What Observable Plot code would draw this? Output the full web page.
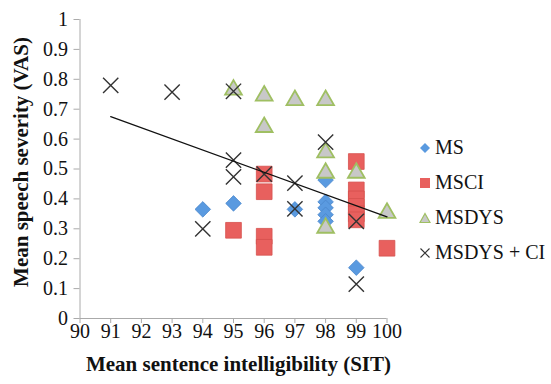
<!DOCTYPE html>
<html>
<head>
<meta charset="utf-8">
<script src="https://cdn.jsdelivr.net/npm/d3@7"></script>
<script src="https://cdn.jsdelivr.net/npm/@observablehq/plot@0.6"></script>
<style>
  html, body { margin: 0; padding: 0; background: #fff; }
  #wrap { position: relative; width: 551px; height: 384px; overflow: hidden; }
  #legend { position: absolute; left: 419px; top: 130px; font-family: "Liberation Serif", "Tinos", "Times New Roman", "Nimbus Roman", "DejaVu Serif", serif; font-size: 20px; color: #111; white-space: nowrap; }
  #legend .row { display: flex; align-items: center; height: 35px; }
  #legend svg { margin-right: 4px; flex: none; }
</style>
</head>
<body>
<div id="wrap"><div id="legend"></div></div>
<script>
const xTicks = [90, 91, 92, 93, 94, 95, 96, 97, 98, 99, 100];
const yTicks = [0, 0.1, 0.2, 0.3, 0.4, 0.5, 0.6, 0.7, 0.8, 0.9, 1];

const msX = [94, 95, 97, 98, 98, 98, 98, 98, 99];
const msY = [0.365, 0.385, 0.365, 0.463, 0.39, 0.37, 0.347, 0.325, 0.17];

const msciX = [95, 96, 96, 96, 96, 99, 99, 99, 99, 99, 99, 100];
const msciY = [0.295, 0.483, 0.424, 0.275, 0.238, 0.525, 0.43, 0.40, 0.375, 0.35, 0.33, 0.235];

const msdysX = [95, 96, 96, 97, 98, 98, 98, 98, 99, 100];
const msdysY = [0.765, 0.745, 0.64, 0.73, 0.73, 0.555, 0.487, 0.303, 0.487, 0.353];

const msdysciX = [91, 93, 95, 95, 95, 94, 96, 97, 97, 98, 99, 99];
const msdysciY = [0.78, 0.757, 0.76, 0.53, 0.474, 0.30, 0.483, 0.453, 0.367, 0.59, 0.325, 0.115];

const trendX = [91, 100];
const trendY = [0.675, 0.34];

const seriesNames = ["MS", "MSCI", "MSDYS", "MSDYS + CI"];

const toRows = (xs, ys) => xs.map((x, i) => ({x, y: ys[i]}));
const ms = toRows(msX, msY);
const msci = toRows(msciX, msciY);
const msdys = toRows(msdysX, msdysY);
const msdysci = toRows(msdysciX, msdysciY);
const trend = toRows(trendX, trendY);

const font = '"Liberation Serif", "Tinos", "Times New Roman", "Nimbus Roman", "DejaVu Serif", serif';

const chart = Plot.plot({
  width: 551,
  height: 384,
  marginLeft: 79.5,
  marginRight: 164.5,
  marginTop: 19,
  marginBottom: 66,
  style: {fontFamily: font, fontSize: "20px", color: "#111", background: "#fff"},
  x: {domain: [90, 100], ticks: xTicks},
  y: {domain: [0, 1], ticks: yTicks},
  marks: [
    Plot.ruleY([0], {stroke: "#aaa", strokeWidth: 1}),
    Plot.ruleX([90], {stroke: "#aaa", strokeWidth: 1}),
    Plot.axisX({ticks: xTicks, tickSize: 5, tickPadding: 0, stroke: "#aaa", strokeOpacity: 1, fill: "#111", tickFormat: d => d3.format("d")(d), fontSize: 20, fontFamily: font, label: null}),
    Plot.axisY({ticks: yTicks, tickSize: 6, tickPadding: 6, stroke: "#aaa", strokeOpacity: 1, fill: "#111", tickFormat: d => d === 0 || d === 1 ? String(d) : d3.format(".1f")(d), fontSize: 20, fontFamily: font, label: null}),
    Plot.text(["Mean sentence intelligibility (SIT)"], {frameAnchor: "bottom", dx: 5, dy: 52, fontWeight: "bold", fontSize: 21, fontFamily: font, fill: "#111"}),
    Plot.text(["Mean speech severity (VAS)"], {frameAnchor: "left", textAnchor: "middle", dx: -58.5, dy: -7, rotate: -90, fontWeight: "bold", fontSize: 21, fontFamily: font, fill: "#111"}),
    Plot.dot(ms, {x: "x", y: "y", symbol: "diamond2", r: 7, fill: "#5a9ae0", stroke: "#4a86cc", strokeWidth: 0.8}),
    Plot.dot(msci, {x: "x", y: "y", symbol: "square2", r: 10, fill: "#e8605e", stroke: "#d6504e", strokeWidth: 0.8}),
    Plot.dot(msdys, {x: "x", y: "y", symbol: "triangle2", r: 8, fill: "#c8c8c8", stroke: "#9fbf62", strokeWidth: 1.8}),
    Plot.dot(msdysci, {x: "x", y: "y", symbol: "times", r: 7, stroke: "#333", strokeWidth: 1.4}),
    Plot.line(trend, {x: "x", y: "y", stroke: "#111", strokeWidth: 1.3})
  ]
});
document.getElementById("wrap").prepend(chart);
chart.style.position = "absolute";
chart.style.left = "0";
chart.style.top = "0";

const icons = [
  '<svg width="12" height="12"><path d="M6 1 L11 6 L6 11 L1 6 Z" fill="#5a9ae0"/></svg>',
  '<svg width="12" height="12"><rect x="1" y="1" width="10" height="10" fill="#e8605e"/></svg>',
  '<svg width="12" height="12"><path d="M6 1.5 L11 10.5 L1 10.5 Z" fill="#c8c8c8" stroke="#9fbf62" stroke-width="1.2"/></svg>',
  '<svg width="12" height="12"><path d="M1.5 1.5 L10.5 10.5 M10.5 1.5 L1.5 10.5" stroke="#333" stroke-width="1.1"/></svg>'
];
const legend = document.getElementById("legend");
seriesNames.forEach((name, i) => {
  const row = document.createElement("div");
  row.className = "row";
  row.innerHTML = icons[i] + "<span>" + name + "</span>";
  legend.appendChild(row);
});
</script>
</body>
</html>
